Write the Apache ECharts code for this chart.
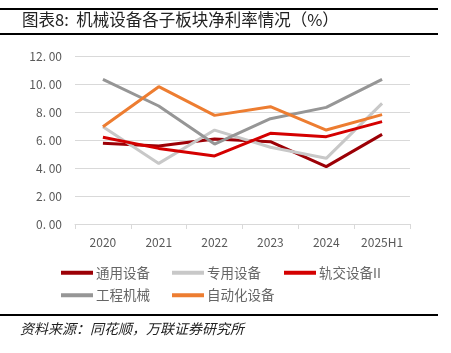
<!DOCTYPE html>
<html>
<head>
<meta charset="utf-8">
<script src="https://cdn.jsdelivr.net/npm/echarts@6/dist/echarts.min.js"></script>
<style>
  html, body { margin: 0; padding: 0; background: #fff; }
  #chart { width: 451px; height: 353px; }
</style>
</head>
<body>
<div id="chart"></div>
<script>
// categories and series (net margin, %)
const years = ["2020", "2021", "2022", "2023", "2024", "2025H1"];
const tongyong = [5.76, 5.57, 6.07, 5.88, 4.10, 6.40];   // 通用设备
const zhuanyong = [6.95, 4.33, 6.71, 5.48, 4.69, 8.62];  // 专用设备
const guijiao = [6.19, 5.40, 4.86, 6.48, 6.24, 7.31];    // 轨交设备II
const gongcheng = [10.33, 8.43, 5.71, 7.52, 8.33, 10.33]; // 工程机械
const zidonghua = [6.95, 9.81, 7.76, 8.38, 6.71, 7.81];  // 自动化设备

const font = "'Noto Sans CJK SC', 'Noto Sans', sans-serif";
const chart = echarts.init(document.getElementById("chart"));

function line(name, data, color) {
  return {
    name: name,
    type: "line",
    data: data,
    symbol: "none",
    lineStyle: { width: 3, color: color },
    itemStyle: { color: color },
  };
}

function legendCol(left, names) {
  return {
    left: left,
    top: 261,
    orient: "vertical",
    itemWidth: 32,
    itemHeight: 4,
    itemGap: 9,
    data: names,
    icon: "rect",
    textStyle: { fontFamily: font, fontSize: 13.5, color: "#666", padding: [0, 0, 0, -2] },
  };
}

const option = {
  animation: false,
  textStyle: { fontFamily: font },
  grid: { left: 75, right: 41, top: 56, bottom: 129 },
  legend: [
    legendCol(56, ["通用设备", "工程机械"]),
    legendCol(167, ["专用设备", "自动化设备"]),
    legendCol(279, ["轨交设备II"]),
  ],
  xAxis: {
    type: "category",
    data: years,
    boundaryGap: true,
    axisLine: { lineStyle: { color: "#d9d9d9" } },
    axisTick: { show: true, length: 5, lineStyle: { color: "#d9d9d9" } },
    axisLabel: { color: "#595959", fontSize: 12, margin: 12 },
  },
  yAxis: {
    type: "value",
    min: 0,
    max: 12,
    interval: 2,
    axisLine: { show: false },
    axisTick: { show: false },
    splitLine: { lineStyle: { color: "#d9d9d9" } },
    axisLabel: {
      color: "#595959",
      fontSize: 12,
      margin: 13,
      formatter: (v) => v.toFixed(2).replace(".", ". "),
    },
  },
  series: [
    line("通用设备", tongyong, "#9c0006"),
    line("专用设备", zhuanyong, "#c8c8c8"),
    line("轨交设备II", guijiao, "#d40000"),
    line("工程机械", gongcheng, "#969696"),
    line("自动化设备", zidonghua, "#ed7d31"),
  ],
  graphic: [
    { type: "rect", shape: { x: 0, y: 8, width: 438, height: 2 }, style: { fill: "#000" } },
    { type: "rect", shape: { x: 0, y: 33, width: 438, height: 2 }, style: { fill: "#000" } },
    {
      type: "text", left: 22, top: 11,
      style: { text: "图表8:  机械设备各子板块净利率情况（%）", fill: "#222", font: "16.5px " + font },
    },
    { type: "rect", shape: { x: 0, y: 314, width: 438, height: 2 }, style: { fill: "#000" } },
    {
      type: "text", left: 20, top: 322,
      style: { text: "资料来源：同花顺，万联证券研究所", fill: "#222", font: "italic 14px " + font },
    },
  ],
};

chart.setOption(option);
</script>
</body>
</html>
